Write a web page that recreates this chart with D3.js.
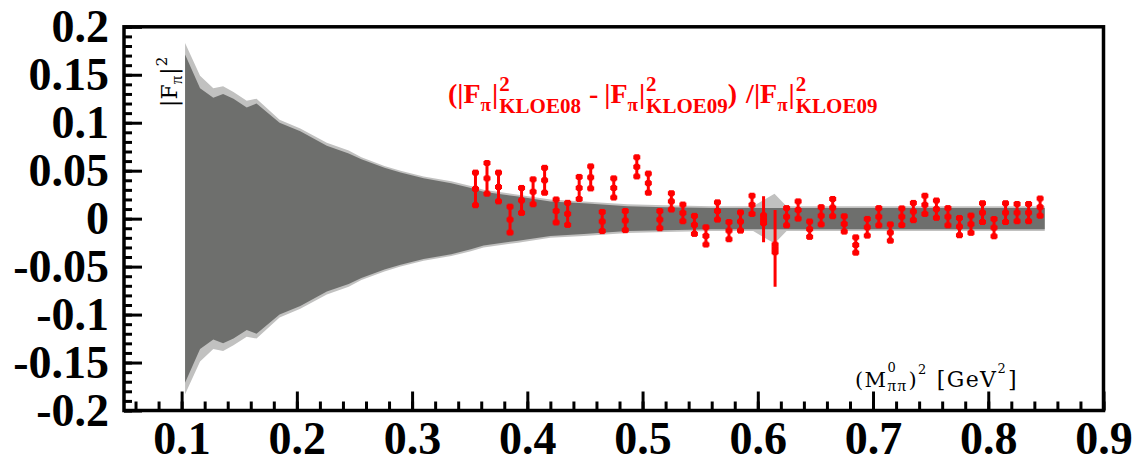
<!DOCTYPE html>
<html>
<head>
<meta charset="utf-8">
<script src="https://cdn.jsdelivr.net/npm/d3@7"></script>
<style>
  html, body { margin: 0; padding: 0; background: #ffffff; }
  svg { display: block; }
</style>
</head>
<body>
<svg id="chart" width="1136" height="465"></svg>
<script>
// Uncertainty band (half-widths, symmetric about zero)
const bandX     = [0.103, 0.116, 0.1275, 0.136, 0.145, 0.1565, 0.165, 0.185, 0.203, 0.226, 0.245, 0.256, 0.276, 0.290, 0.310, 0.334, 0.351, 0.362, 0.392, 0.420, 0.449, 0.487, 0.520, 0.560, 0.596, 0.6145, 0.625, 0.700, 0.780, 0.849];
const bandInner = [0.171, 0.136, 0.126, 0.130, 0.125, 0.116, 0.120, 0.100, 0.091, 0.076, 0.068, 0.062, 0.053, 0.048, 0.042, 0.037, 0.032, 0.028, 0.023, 0.018, 0.016, 0.013, 0.012, 0.011, 0.011, 0.011, 0.011, 0.011, 0.011, 0.011];
const bandOuter = [0.183, 0.149, 0.136, 0.138, 0.132, 0.123, 0.125, 0.103, 0.094, 0.079, 0.071, 0.064, 0.055, 0.050, 0.044, 0.039, 0.034, 0.030, 0.025, 0.020, 0.018, 0.015, 0.014, 0.013, 0.013, 0.026, 0.013, 0.013, 0.013, 0.013];

// Relative difference KLOE08 vs KLOE09
const ptX = [0.355, 0.365, 0.375, 0.385, 0.395, 0.405, 0.415, 0.425, 0.435, 0.445,
             0.455, 0.465, 0.475, 0.485, 0.495, 0.505, 0.515, 0.525, 0.535, 0.545,
             0.555, 0.565, 0.575, 0.585, 0.595, 0.605, 0.615, 0.625, 0.635, 0.645,
             0.655, 0.665, 0.675, 0.685, 0.695, 0.705, 0.715, 0.725, 0.735, 0.745,
             0.755, 0.765, 0.775, 0.785, 0.795, 0.805, 0.815, 0.825, 0.835, 0.845];
const ptY = [0.031, 0.042, 0.033, -0.001, 0.019, 0.028, 0.040, 0.008, 0.005, 0.032,
             0.043, -0.003, 0.032, -0.002, 0.054, 0.037, -0.001, 0.018, 0.006, -0.0065,
             -0.018, 0.008, -0.0125, -0.003, 0.0144, -0.0006, -0.031, 0.002, 0.009, -0.011,
             0.003, 0.0115, -0.0055, -0.0275, -0.009, 0.002, -0.0145, 0.002, 0.0074, 0.0144,
             0.0099, 0.002, -0.0083, -0.0058, 0.0063, -0.0094, 0.0063, 0.0063, 0.0063, 0.012];
const ptErr = [0.017, 0.016, 0.015, 0.0135, 0.013, 0.013, 0.013, 0.012, 0.0115, 0.0115,
               0.0115, 0.010, 0.010, 0.010, 0.010, 0.010, 0.009, 0.0085, 0.0087, 0.0094,
               0.009, 0.009, 0.009, 0.0095, 0.0095, 0.024, 0.040, 0.009, 0.009, 0.008,
               0.009, 0.009, 0.008, 0.008, 0.0087, 0.009, 0.0085, 0.0087, 0.009, 0.0095,
               0.009, 0.009, 0.009, 0.009, 0.0098, 0.009, 0.0098, 0.009, 0.009, 0.009];
const ptStat = [0.017, 0.016, 0.015, 0.0135, 0.013, 0.013, 0.013, 0.012, 0.0115, 0.0115,
                0.0115, 0.010, 0.010, 0.010, 0.010, 0.010, 0.009, 0.0085, 0.0087, 0.0094,
                0.009, 0.009, 0.009, 0.0095, 0.0095, 0.004, 0.004, 0.009, 0.009, 0.008,
                0.009, 0.009, 0.008, 0.008, 0.0087, 0.009, 0.0085, 0.0087, 0.009, 0.0095,
                0.009, 0.009, 0.009, 0.009, 0.0098, 0.009, 0.0098, 0.009, 0.009, 0.009];

// Axis ticks
const xTickValues = [0.1, 0.2, 0.3, 0.4, 0.5, 0.6, 0.7, 0.8, 0.9];
const xTickLabels = ["0.1", "0.2", "0.3", "0.4", "0.5", "0.6", "0.7", "0.8", "0.9"];
const yTickValues = [-0.2, -0.15, -0.1, -0.05, 0, 0.05, 0.1, 0.15, 0.2];
const yTickLabels = ["-0.2", "-0.15", "-0.1", "-0.05", "0", "0.05", "0.1", "0.15", "0.2"];

const svg = d3.select("#chart");
const x = d3.scaleLinear().domain([0.05, 0.9]).range([124, 1103.5]);
const y = d3.scaleLinear().domain([-0.2, 0.2]).range([410.5, 26.8]);

// ---- band ----
function bandArea(hw) {
  return d3.area()
    .x((d, i) => x(bandX[i]))
    .y0((d, i) => y(-hw[i]))
    .y1((d, i) => y(hw[i]));
}
svg.append("path").datum(bandOuter).attr("d", bandArea(bandOuter)).attr("fill", "#c1c1c0");
svg.append("path").datum(bandInner).attr("d", bandArea(bandInner)).attr("fill", "#6e6f6d");

// ---- data points with error bars ----
const pts = ptX.map((v, i) => ({ x: v, y: ptY[i], e: ptErr[i], s: ptStat[i] }));
const gp = svg.append("g").attr("fill", "#ff0000");
const pg = gp.selectAll("g.pt").data(pts).join("g").attr("class", "pt");
pg.append("rect")
  .attr("x", d => x(d.x) - 1.5)
  .attr("width", 3)
  .attr("y", d => y(d.y + d.e))
  .attr("height", d => y(d.y - d.e) - y(d.y + d.e));
// small cross-shaped blobs at the centre and at the stat-error ends
[-1, 0, 1].forEach(k => {
  pg.append("rect")
    .attr("x", d => x(d.x) - 3.5)
    .attr("width", 7)
    .attr("y", d => y(d.y + k * d.s) - 2)
    .attr("height", 4);
  pg.append("rect")
    .attr("x", d => x(d.x) - 2.5)
    .attr("width", 5)
    .attr("y", d => y(d.y + k * d.s) - 3)
    .attr("height", 6);
});

// ---- axes ----
function styleAxis(g) {
  g.select(".domain").remove();
  g.selectAll(".tick line").attr("stroke", "#000").attr("stroke-width", 3);
  g.selectAll("text")
    .attr("fill", "#000")
    .attr("font-family", "'Liberation Serif', 'Times New Roman', serif")
    .attr("font-weight", "bold")
    .attr("font-size", 46);
}
const x0 = x.range()[0], x1 = x.range()[1];
const yTop = y.range()[1], yBot = y.range()[0];

const yMinor = d3.range(-20, 21).map(i => i / 100);
svg.append("g").attr("transform", `translate(${x0},0)`)
  .call(d3.axisLeft(y).tickValues(yMinor).tickFormat("").tickSizeInner(-8).tickSizeOuter(0))
  .call(styleAxis);
svg.append("g").attr("transform", `translate(${x0},0)`)
  .call(d3.axisLeft(y).tickValues(yTickValues).tickFormat((d, i) => yTickLabels[i])
        .tickSizeInner(-18).tickSizeOuter(0).tickPadding(15))
  .call(styleAxis);

const xMinor = d3.range(3, 46).map(i => i / 50);
svg.append("g").attr("transform", `translate(0,${yBot})`)
  .call(d3.axisBottom(x).tickValues(xMinor).tickFormat("").tickSizeInner(-9).tickSizeOuter(0))
  .call(styleAxis);
svg.append("g").attr("transform", `translate(0,${yBot})`)
  .call(d3.axisBottom(x).tickValues(xTickValues).tickFormat((d, i) => xTickLabels[i])
        .tickSizeInner(-19).tickSizeOuter(0).tickPadding(11))
  .call(styleAxis);

// frame
svg.append("rect")
  .attr("x", x0).attr("y", yTop)
  .attr("width", x1 - x0).attr("height", yBot - yTop)
  .attr("fill", "none").attr("stroke", "#000").attr("stroke-width", 3.5);

// ---- rich text helper: one <text>, pieces as tspans laid out left to right,
// a piece with stack:true shares the start of the previous piece ----
function richText(parent, sx, sy, parts, attrs) {
  const t = parent.append("text");
  Object.entries(attrs).forEach(([k, v]) => t.attr(k, v));
  let cx = sx, lastStart = sx;
  parts.forEach(p => {
    const px = p.stack ? lastStart : cx;
    const s = t.append("tspan")
      .attr("x", px)
      .attr("y", sy + (p.dy || 0))
      .attr("font-size", p.size)
      .text(p.t);
    if (p.family) s.attr("font-family", p.family);
    const w = s.node().getComputedTextLength();
    if (p.stack) cx = Math.max(cx, px + w);
    else { lastStart = px; cx = px + w; }
    cx += (p.gap || 0);
  });
  return t;
}

const serif = "'Liberation Serif', 'Times New Roman', serif";

// title inside the plot
const ffPiece = (sub, last) => [
  { t: "|F", size: 28 },
  { t: "π", size: 19, dy: 8, gap: 1 },
  { t: "|", size: 28, gap: 1 },
  { t: "2", size: 21, dy: -12 },
  { t: sub, size: 21, dy: 10, stack: true, gap: last }
];
richText(svg, 448, 103, [
  { t: "(", size: 28 },
  ...ffPiece("KLOE08", 8),
  { t: "-", size: 28, gap: 6 },
  ...ffPiece("KLOE09", 0),
  { t: ")", size: 28, gap: 9 },
  { t: "/", size: 28 },
  ...ffPiece("KLOE09", 0)
], { fill: "#ff0000", "font-family": serif, "font-weight": "bold" });

// y-axis label, rotated
const gyl = svg.append("g").attr("transform", "translate(177,107) rotate(-90)");
richText(gyl, 0, 0, [
  { t: "|F", size: 22 },
  { t: "π", size: 17, dy: 5, gap: 1, family: serif },
  { t: "|", size: 22, gap: 1 },
  { t: "2", size: 15, dy: -10 }
], { fill: "#000", "font-family": "'DejaVu Serif', serif" });

// x-axis label
richText(svg, 855, 386.5, [
  { t: "(M", size: 21 },
  { t: "0", size: 13, dy: -15 },
  { t: "ππ", size: 17, dy: 4, stack: true, family: serif, gap: 1 },
  { t: ")", size: 21 },
  { t: "2", size: 13, dy: -13, gap: 9 },
  { t: "[GeV", size: 22 },
  { t: "2", size: 13, dy: -14, gap: 1 },
  { t: "]", size: 22 }
], { fill: "#000", "font-family": "'DejaVu Serif', serif", "letter-spacing": "1.4px" });
</script>
</body>
</html>
